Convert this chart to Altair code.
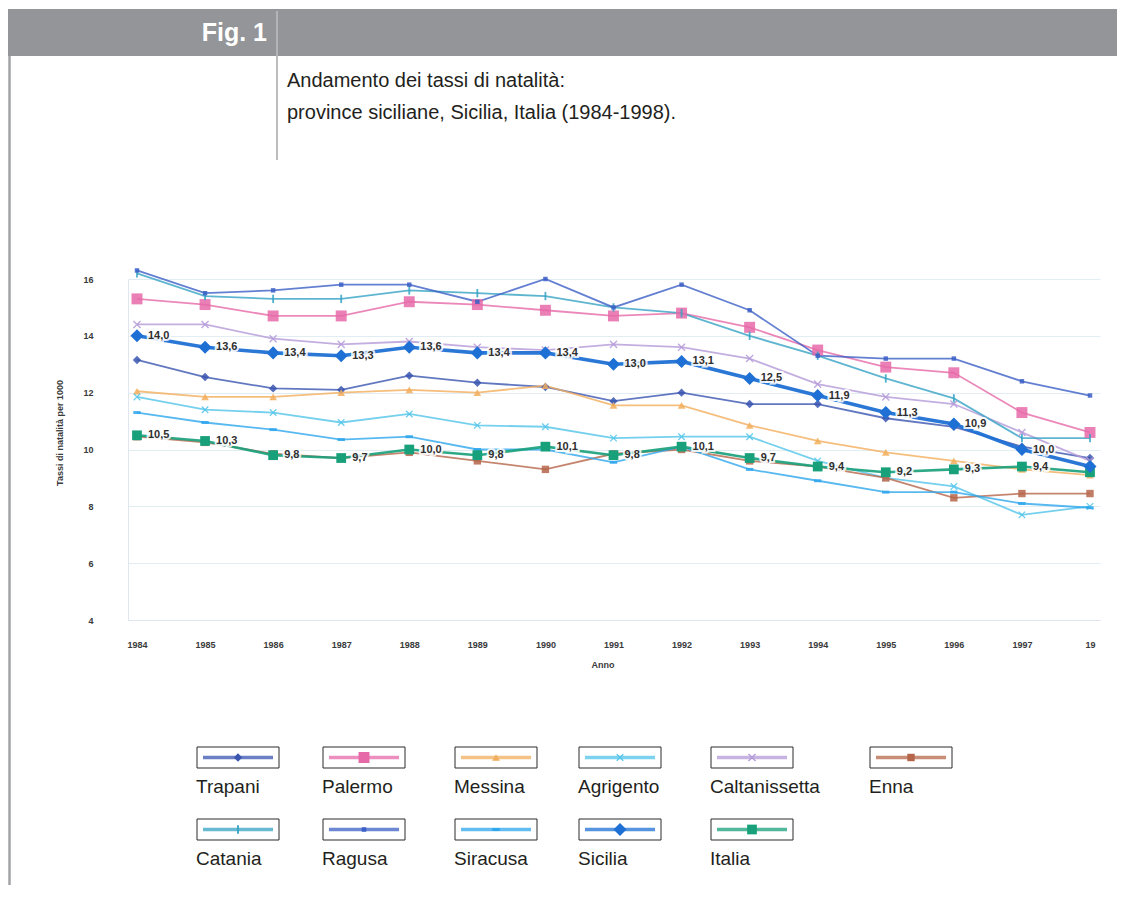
import altair as alt
import pandas as pd

# ---------------- data ----------------
years = list(range(1984, 1999))
names = ["Trapani", "Palermo", "Messina", "Agrigento", "Caltanissetta", "Enna",
         "Catania", "Ragusa", "Siracusa", "Sicilia", "Italia"]

trapani = [13.15, 12.55, 12.15, 12.1, 12.6, 12.35, 12.2, 11.7, 12.0, 11.6, 11.6, 11.1, 10.8, 10.1, 9.7]
palermo = [15.3, 15.1, 14.7, 14.7, 15.2, 15.1, 14.9, 14.7, 14.8, 14.3, 13.5, 12.9, 12.7, 11.3, 10.6]
messina = [12.05, 11.85, 11.85, 12.0, 12.1, 12.0, 12.25, 11.55, 11.55, 10.85, 10.3, 9.9, 9.6, 9.3, 9.1]
agrigento = [11.85, 11.4, 11.3, 10.95, 11.25, 10.85, 10.8, 10.4, 10.45, 10.45, 9.6, 9.0, 8.7, 7.7, 8.0]
caltanissetta = [14.4, 14.4, 13.9, 13.7, 13.8, 13.6, 13.5, 13.7, 13.6, 13.2, 12.3, 11.85, 11.6, 10.6, 9.6]
enna = [10.45, 10.25, 9.85, 9.7, 9.9, 9.6, 9.3, 9.85, 10.0, 9.6, 9.4, 9.0, 8.3, 8.45, 8.45]
catania = [16.2, 15.4, 15.3, 15.3, 15.6, 15.5, 15.4, 15.0, 14.8, 14.0, 13.3, 12.5, 11.8, 10.4, 10.4]
ragusa = [16.3, 15.5, 15.6, 15.8, 15.8, 15.2, 16.0, 15.0, 15.8, 14.9, 13.3, 13.2, 13.2, 12.4, 11.9]
siracusa = [11.3, 10.95, 10.7, 10.35, 10.45, 10.0, 10.0, 9.55, 10.1, 9.3, 8.9, 8.5, 8.5, 8.1, 7.95]
sicilia = [14.0, 13.6, 13.4, 13.3, 13.6, 13.4, 13.4, 13.0, 13.1, 12.5, 11.9, 11.3, 10.9, 10.0, 9.4]
italia = [10.5, 10.3, 9.8, 9.7, 10.0, 9.8, 10.1, 9.8, 10.1, 9.7, 9.4, 9.2, 9.3, 9.4, 9.2]

y_ticks = [4, 6, 8, 10, 12, 14, 16]

fig_label = "Fig. 1"
subtitle_1 = "Andamento dei tassi di natalità:"
subtitle_2 = "province siciliane, Sicilia, Italia (1984-1998)."
y_title = "Tassi di natalità per 1000"
x_title = "Anno"

series = [trapani, palermo, messina, agrigento, caltanissetta, enna,
          catania, ragusa, siracusa, sicilia, italia]

# ---------------- styles ----------------
colors = ["#3a55b0", "#e66aa8", "#f2ae5c", "#52c4ea", "#b49ad8", "#b5654a",
          "#36a3c4", "#3b5fc6", "#2ea6ec", "#1f70d4", "#17a07a"]
shape_x = "M-1,-0.75L-0.75,-1L0,-0.25L0.75,-1L1,-0.75L0.25,0L1,0.75L0.75,1L0,0.25L-0.75,1L-1,0.75L-0.25,0Z"
shape_bar = "M-0.22,-1H0.22V1H-0.22Z"
shape_dash = "M-1,-0.4H1V0.4H-1Z"
shapes = ["diamond", "square", "triangle-up", shape_x, shape_x, "square",
          shape_bar, "square", shape_dash, "diamond", "square"]
sizes = [70, 120, 60, 55, 65, 55, 70, 20, 55, 170, 95]

color_scale = alt.Scale(domain=names, range=colors)
shape_scale = alt.Scale(domain=names, range=shapes)

names_js = "[" + ",".join("'" + n + "'" for n in names) + "]"
sizes_js = "[" + ",".join(str(s) for s in sizes) + "]"
size_expr = sizes_js + "[indexof(" + names_js + ", datum.name)]"

rows = []
for n, vals in zip(names, series):
    for yr, v in zip(years, vals):
        rows.append({"name": n, "year": yr, "value": v})
df = pd.DataFrame(rows)

# ---------------- layout (page px -> plot px) ----------------
W, H = 972, 341
PL, PT = 120, 271          # plot origin at page (128, 279)
PR, PB = 17, 265


def px(x):
    return x - 128


def py(y):
    return y - 279


FONT = "Liberation Sans"

x_scale = alt.Scale(domain=[1983.868, 1998.147], nice=False, zero=False)
y_scale = alt.Scale(domain=[4, 16], nice=False, zero=False)

x_axis = alt.Axis(values=years, format="d", grid=False, ticks=False,
                  domainColor="#dfe6ee", labelPadding=20, labelFontSize=9,
                  labelFontWeight="bold", labelColor="#3a3a3a", labelFont=FONT,
                  labelExpr="datum.value == 1998 ? '19' : datum.label",
                  title=None, labelFlush=False)
y_axis = alt.Axis(values=y_ticks, grid=True, gridColor="#e2ecf3", ticks=False,
                  domainColor="#dfe6ee", labelPadding=35, labelFontSize=9,
                  labelFontWeight="bold", labelColor="#3a3a3a", labelFont=FONT,
                  title=None)

base = alt.Chart(df).transform_calculate(sz=size_expr)

provinces = base.transform_filter(
    alt.FieldOneOfPredicate(field="name", oneOf=names[:9])
)

prov_lines = provinces.mark_line(strokeWidth=1.8, opacity=0.8).encode(
    x=alt.X("year:Q", scale=x_scale, axis=x_axis),
    y=alt.Y("value:Q", scale=y_scale, axis=y_axis),
    color=alt.Color("name:N", scale=color_scale, legend=None),
    detail="name:N",
)
prov_points = provinces.mark_point(filled=True, opacity=0.85).encode(
    x="year:Q", y="value:Q",
    color=alt.Color("name:N", scale=color_scale, legend=None),
    shape=alt.Shape("name:N", scale=shape_scale, legend=None),
    size=alt.Size("sz:Q", scale=None),
)

italia_f = base.transform_filter(alt.datum.name == "Italia")
sicilia_f = base.transform_filter(alt.datum.name == "Sicilia")

italia_line = italia_f.mark_line(strokeWidth=2.6, opacity=0.9).encode(
    x="year:Q", y="value:Q",
    color=alt.Color("name:N", scale=color_scale, legend=None),
)
italia_pts = italia_f.mark_point(filled=True, opacity=1).encode(
    x="year:Q", y="value:Q",
    color=alt.Color("name:N", scale=color_scale, legend=None),
    shape=alt.Shape("name:N", scale=shape_scale, legend=None),
    size=alt.Size("sz:Q", scale=None),
)
sicilia_line = sicilia_f.mark_line(strokeWidth=3.6, opacity=0.95).encode(
    x="year:Q", y="value:Q",
    color=alt.Color("name:N", scale=color_scale, legend=None),
)
sicilia_pts = sicilia_f.mark_point(filled=True, opacity=1).encode(
    x="year:Q", y="value:Q",
    color=alt.Color("name:N", scale=color_scale, legend=None),
    shape=alt.Shape("name:N", scale=shape_scale, legend=None),
    size=alt.Size("sz:Q", scale=None),
)

labelled = base.transform_filter(
    alt.FieldOneOfPredicate(field="name", oneOf=["Sicilia", "Italia"])
).transform_filter(alt.datum.year <= 1997).transform_calculate(
    lab="replace(format(datum.value, '.1f'), '.', ',')"
)
lab_halo = labelled.mark_text(align="left", baseline="middle", dx=11, fontSize=11,
                              fontWeight="bold", font=FONT, stroke="white",
                              strokeWidth=4, strokeOpacity=0.85, fill="white").encode(
    x="year:Q", y="value:Q", text="lab:N")
lab_text = labelled.mark_text(align="left", baseline="middle", dx=11, fontSize=11,
                              fontWeight="bold", font=FONT, color="#2f2f2f").encode(
    x="year:Q", y="value:Q", text="lab:N")

# ---------------- page furniture ----------------
one = pd.DataFrame({"k": [0]})
deco = alt.Chart(one)

header = deco.mark_rect(color="#939598").encode(
    x=alt.value(-PL), x2=alt.value(W + PR), y=alt.value(py(9)), y2=alt.value(py(56)))
div_top = deco.mark_rule(color="#c9cacc", strokeWidth=1.2).encode(
    x=alt.value(px(277)), y=alt.value(py(11)), y2=alt.value(py(56)))
div_low = deco.mark_rule(color="#8f9194", strokeWidth=1.2).encode(
    x=alt.value(px(277)), y=alt.value(py(56)), y2=alt.value(py(160)))
left_line = deco.mark_rule(color="#a2a3a6", strokeWidth=2.5).encode(
    x=alt.value(px(9.5)), y=alt.value(py(56)), y2=alt.value(H + PB))
fig_text = deco.mark_text(align="right", baseline="middle", fontSize=25,
                          fontWeight="bold", font=FONT, color="white").encode(
    x=alt.value(px(267)), y=alt.value(py(33)), text=alt.value(fig_label))
sub1 = deco.mark_text(align="left", baseline="middle", fontSize=20, font=FONT,
                      color="#231f20").encode(
    x=alt.value(px(287)), y=alt.value(py(81)), text=alt.value(subtitle_1))
sub2 = deco.mark_text(align="left", baseline="middle", fontSize=20, font=FONT,
                      color="#231f20").encode(
    x=alt.value(px(287)), y=alt.value(py(113)), text=alt.value(subtitle_2))
ytitle = deco.mark_text(align="center", baseline="middle", fontSize=9, angle=270,
                        fontWeight="bold", font=FONT, color="#3a3a3a").encode(
    x=alt.value(px(60)), y=alt.value(py(433)), text=alt.value(y_title))
xtitle = deco.mark_text(align="center", baseline="middle", fontSize=9,
                        fontWeight="bold", font=FONT, color="#3a3a3a").encode(
    x=alt.value(px(603)), y=alt.value(py(665)), text=alt.value(x_title))

# ---------------- legend (boxes below the chart) ----------------
col_left = [197, 323, 455, 579, 711, 870]
row_top = [747, 819]
leg_rows = []
for i, n in enumerate(names):
    bx = px(col_left[i % 6])
    by = py(row_top[i // 6])
    leg_rows.append({"name": n, "bx": bx, "bx2": bx + 82, "by": by, "by2": by + 21,
                     "lx1": bx + 6, "lx2": bx + 76, "cx": bx + 41, "cy": by + 10.5,
                     "tx": bx - 1, "ty": by + 40})
leg = alt.Chart(pd.DataFrame(leg_rows)).transform_calculate(sz=size_expr)

leg_box = leg.mark_rect(fill="white", stroke="#2b2b2b", strokeWidth=1).encode(
    x=alt.X("bx:Q", scale=None), x2="bx2:Q",
    y=alt.Y("by:Q", scale=None), y2="by2:Q")
leg_line = leg.mark_rule(strokeWidth=3.5, opacity=0.75).encode(
    x=alt.X("lx1:Q", scale=None), x2="lx2:Q",
    y=alt.Y("cy:Q", scale=None),
    color=alt.Color("name:N", scale=color_scale, legend=None))
leg_pt = leg.mark_point(filled=True, opacity=1).encode(
    x=alt.X("cx:Q", scale=None), y=alt.Y("cy:Q", scale=None),
    color=alt.Color("name:N", scale=color_scale, legend=None),
    shape=alt.Shape("name:N", scale=shape_scale, legend=None),
    size=alt.Size("sz:Q", scale=None))
leg_txt = leg.mark_text(align="left", baseline="middle", fontSize=19, font=FONT,
                        color="#231f20").encode(
    x=alt.X("tx:Q", scale=None), y=alt.Y("ty:Q", scale=None), text="name:N")

chart = alt.layer(
    header, div_top, div_low, left_line, fig_text, sub1, sub2,
    prov_lines, prov_points, italia_line, italia_pts, sicilia_line, sicilia_pts,
    lab_halo, lab_text, ytitle, xtitle,
    leg_box, leg_line, leg_pt, leg_txt,
).resolve_scale(
    color="shared", shape="shared"
).properties(
    width=W, height=H,
    autosize=alt.AutoSizeParams(type="none"),
    padding={"left": PL, "top": PT, "right": PR, "bottom": PB},
    background="white",
).configure_view(stroke=None)

chart.save("out.html", embed_options={"renderer": "svg", "actions": False})
